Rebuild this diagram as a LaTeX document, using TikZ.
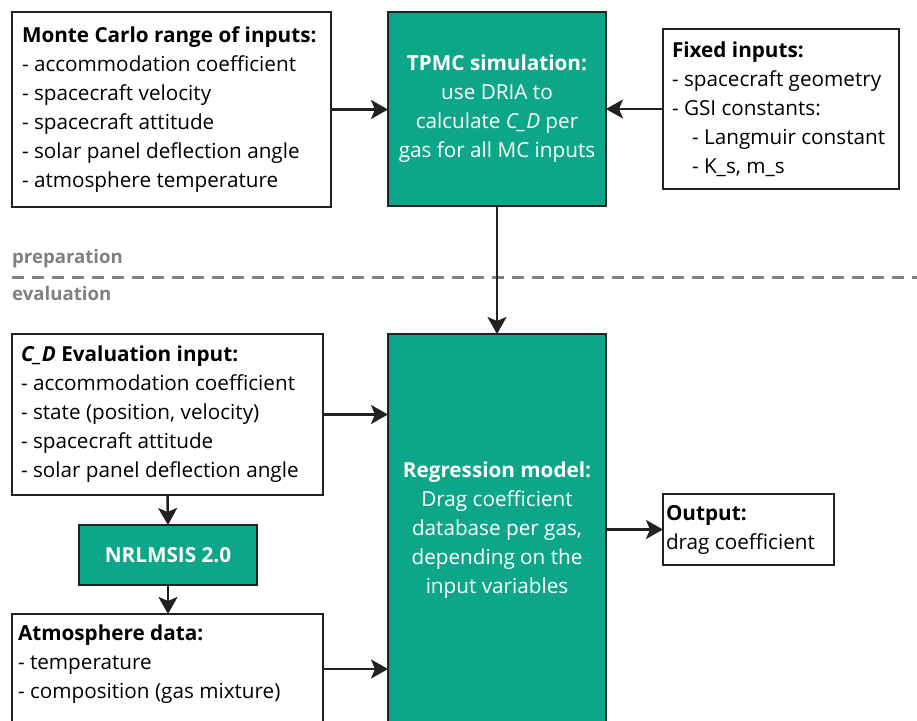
\documentclass[tikz,border=0pt]{standalone}
\usepackage{fontspec}
\setmainfont{Open Sans}
\usetikzlibrary{arrows.meta}
\definecolor{tealc}{RGB}{14,166,137}
\definecolor{linec}{RGB}{34,34,34}
\definecolor{grayc}{RGB}{128,128,128}
\tikzset{
  base/.style={font=\fontsize{20.7}{29}\selectfont, line width=2.5pt, draw=linec, inner sep=0pt, outer sep=0pt},
  wbox/.style={base, fill=white, text=black, align=left},
  gbox/.style={base, fill=tealc, text=white, align=center},
  txt/.style={font=\fontsize{20.7}{29}\selectfont, inner sep=0pt, outer sep=0pt},
  ltxt/.style={txt, anchor=west, align=left},
  arr/.style={line width=2.5pt, draw=linec, -{Stealth[length=17pt,width=19pt,inset=4pt]}},
  lbl/.style={font=\fontsize{18.6}{22}\selectfont\bfseries, text=grayc, inner sep=0pt, anchor=base west},
}
\begin{document}
\begin{tikzpicture}[x=1pt,y=-1pt]
\useasboundingbox (0,0) rectangle (917,720);
\fill[white] (0,0) rectangle (917,720);

% separator
\draw[grayc, line width=3pt, dash pattern=on 12pt off 8pt] (12,277) -- (917,277);
\node[lbl] (prep) at (12,263) {preparation};
\node[lbl] (eval) at (12,300) {evaluation};

% preparation row
\node[wbox, minimum width=319pt, minimum height=195pt] (mc) at (171.5,109.5) {};
\node[ltxt] (mctext) at ([xshift=10pt]mc.west)
  {\textbf{Monte Carlo range of inputs:}\\
   - accommodation coefficient\\
   - spacecraft velocity\\
   - spacecraft attitude\\
   - solar panel deflection angle\\
   - atmosphere temperature};
\node[gbox, minimum width=218pt, minimum height=194pt] (tpmc) at (497,109)
  {\textbf{TPMC simulation:}\\
   use DRIA to\\
   calculate \textit{C\_D} per\\
   gas for all MC inputs};
\node[wbox, minimum width=236pt, minimum height=160pt] (fixed) at (781,109) {};
\node[ltxt] (fixedtext) at ([xshift=9pt]fixed.west)
  {\textbf{Fixed inputs:}\\
   - spacecraft geometry\\
   - GSI constants:\\
   \hspace*{20pt}- Langmuir constant\\
   \hspace*{20pt}- K\_s, m\_s};

% evaluation row
\node[wbox, minimum width=311pt, minimum height=161pt] (cd) at (167.5,414.5) {};
\node[ltxt] (cdtext) at ([xshift=9pt]cd.west)
  {\textbf{\textit{C\_D} Evaluation input:}\\
   - accommodation coefficient\\
   - state (position, velocity)\\
   - spacecraft attitude\\
   - solar panel deflection angle};
\node[gbox, minimum width=178pt, minimum height=60pt] (msis) at (168,555) {\textbf{NRLMSIS 2.0}};
\node[wbox, minimum width=311pt, minimum height=110pt] (atm) at (167.5,669) {};
\node[txt, anchor=north west, align=left] (atmtext) at (18,625)
  {\textbf{Atmosphere data:}\\
   - temperature\\
   - composition (gas mixture)};
\node[gbox, minimum width=218pt, minimum height=400pt] (reg) at (497,534) {};
\node[txt, text=white, align=center] (regtext) at (497,530)
  {\textbf{Regression model:}\\
   Drag coefficient\\
   database per gas,\\
   depending on the\\
   input variables};
\node[wbox, minimum width=171pt, minimum height=71pt] (out) at (748.5,529.5) {};
\node[ltxt] (outtext) at ([xshift=3pt]out.west)
  {\textbf{Output:}\\
   drag coefficient};

% connectors
\draw[arr] (mc.east) -- (mc.east -| tpmc.west);
\draw[arr] (fixed.west) -- (fixed.west -| tpmc.east);
\draw[arr] (tpmc.south) -- (reg.north);
\draw[arr] (cd.east) -- (cd.east -| reg.west);
\draw[arr] (cd.south) -- (msis.north);
\draw[arr] (msis.south) -- (msis.south |- atm.north);
\draw[arr] (atm.east) -- (atm.east -| reg.west);
\draw[arr] (out.west -| reg.east) -- (out.west);
\end{tikzpicture}
\end{document}
